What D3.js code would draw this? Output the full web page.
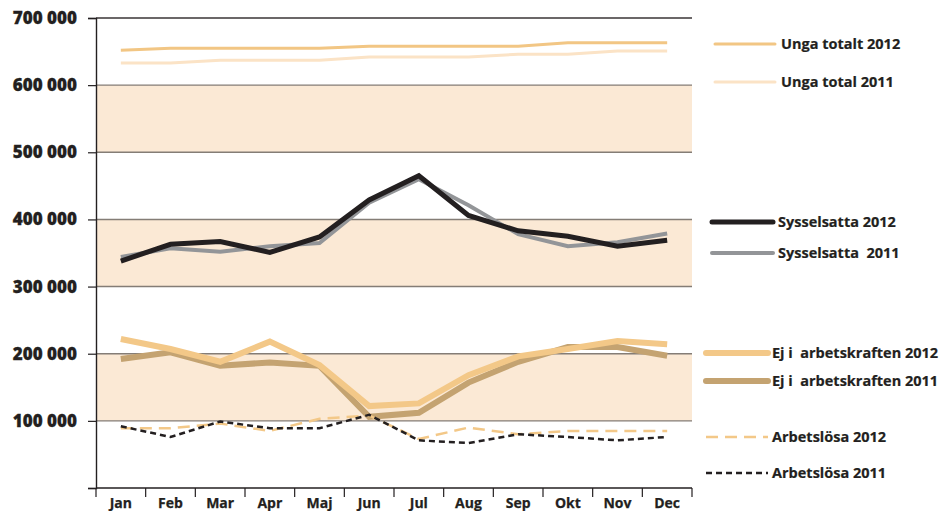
<!DOCTYPE html>
<html>
<head>
<meta charset="utf-8">
<script src="https://cdn.jsdelivr.net/npm/d3@7"></script>
<style>
  body { margin: 0; background: #fff; }
  svg { font-family: 'Open Sans', sans-serif; font-weight: 700; }
</style>
</head>
<body>
<div id="chart"></div>
<script>
const months = ['Jan', 'Feb', 'Mar', 'Apr', 'Maj', 'Jun', 'Jul', 'Aug', 'Sep', 'Okt', 'Nov', 'Dec'];
const yTicks = [0, 100000, 200000, 300000, 400000, 500000, 600000, 700000];
const bands = [[100000, 200000], [300000, 400000], [500000, 600000]];

const ungaTotalt2012 = [652000, 655000, 655000, 655000, 655000, 658000, 658000, 658000, 658000, 663000, 663000, 663000];
const ungaTotal2011 = [633000, 633000, 637000, 637000, 637000, 642000, 642000, 642000, 646000, 646000, 651000, 651000];
const sysselsatta2012 = [338000, 363000, 367000, 351000, 374000, 429000, 465000, 406000, 383000, 375000, 360000, 369000];
const sysselsatta2011 = [344000, 357000, 352000, 360000, 365000, 425000, 460000, 421000, 378000, 360000, 366000, 379000];
const ejArbets2012 = [222000, 207000, 188000, 218000, 183000, 122000, 126000, 168000, 196000, 207000, 219000, 214000];
const ejArbets2011 = [192000, 202000, 182000, 187000, 182000, 106000, 112000, 157000, 188000, 210000, 210000, 197000];
const arbetslosa2012 = [89000, 89000, 96000, 85000, 103000, 108000, 73000, 90000, 80000, 85000, 85000, 85000];
const arbetslosa2011 = [92000, 76000, 99000, 89000, 89000, 109000, 71000, 67000, 80000, 76000, 71000, 76000];

const series = [
  { name: 'Unga totalt 2012', values: ungaTotalt2012, color: '#f2c684', width: 3, dash: null, ly: 44 },
  { name: 'Unga total 2011', values: ungaTotal2011, color: '#fbe3c6', width: 3, dash: null, ly: 82 },
  { name: 'Ej i  arbetskraften 2011', values: ejArbets2011, color: '#c4a371', width: 6, dash: null, ly: 381 },
  { name: 'Ej i  arbetskraften 2012', values: ejArbets2012, color: '#f3c888', width: 6, dash: null, ly: 353 },
  { name: 'Arbetslösa 2012', values: arbetslosa2012, color: '#f3c888', width: 2.5, dash: '12,7', ly: 437 },
  { name: 'Arbetslösa 2011', values: arbetslosa2011, color: '#231f20', width: 2.5, dash: '6,4', ly: 473 },
  { name: 'Sysselsatta  2011', values: sysselsatta2011, color: '#939598', width: 4, dash: null, ly: 253 },
  { name: 'Sysselsatta 2012', values: sysselsatta2012, color: '#231f20', width: 5, dash: null, ly: 222 }
];

const W = 940, H = 511;
const plotLeft = 96, plotRight = 692, plotTop = 18, plotBottom = 488;

const svg = d3.select('#chart').append('svg').attr('width', W).attr('height', H);

const x = d3.scaleBand().domain(months).range([plotLeft, plotRight]);
const y = d3.scaleLinear().domain([0, 700000]).range([plotBottom, plotTop]);

// beige bands
svg.append('g')
  .selectAll('rect')
  .data(bands)
  .enter()
  .append('rect')
  .attr('x', plotLeft)
  .attr('width', plotRight - plotLeft)
  .attr('y', (d) => y(d[1]))
  .attr('height', (d) => y(d[0]) - y(d[1]))
  .style('fill', '#fbe9d5');

// horizontal grid lines
svg.append('g')
  .selectAll('line')
  .data(yTicks.filter((d) => d > 0))
  .enter()
  .append('line')
  .attr('x1', plotLeft)
  .attr('x2', plotRight)
  .attr('y1', (d) => y(d))
  .attr('y2', (d) => y(d))
  .style('stroke', (d) => (d === 700000 ? '#3a3536' : '#847d76'))
  .style('stroke-width', 1.4);

// y axis
const fmt = (d) => d3.format(',')(d).replace(/,/g, ' ');
const yAxis = svg.append('g')
  .attr('transform', `translate(${plotLeft},0)`)
  .call(d3.axisLeft(y).tickValues(yTicks).tickSize(8).tickPadding(11).tickFormat((d) => (d === 0 ? '' : fmt(d))));
yAxis.select('.domain').style('stroke', '#231f20').style('stroke-width', 1.4);
yAxis.selectAll('.tick line').style('stroke', '#231f20').style('stroke-width', 1.2);
yAxis.selectAll('.tick text')
  .style('font-family', "'Open Sans', sans-serif")
  .style('font-weight', 800)
  .style('font-size', '17px')
  .style('stroke', '#231f20')
  .style('stroke-width', 0.3)
  .style('fill', '#231f20');

// x axis with ticks at category edges
const xg = svg.append('g').attr('transform', `translate(0,${plotBottom})`);
xg.append('line')
  .attr('x1', plotLeft)
  .attr('x2', plotRight)
  .style('stroke', '#231f20')
  .style('stroke-width', 1.4);
xg.selectAll('.edge')
  .data(months.concat(['end']))
  .enter()
  .append('line')
  .attr('class', 'edge')
  .attr('x1', (d) => (d === 'end' ? plotRight : x(d)))
  .attr('x2', (d) => (d === 'end' ? plotRight : x(d)))
  .attr('y1', 0)
  .attr('y2', 9)
  .style('stroke', '#231f20')
  .style('stroke-width', 1.2);
xg.selectAll('.lbl')
  .data(months)
  .enter()
  .append('text')
  .attr('class', 'lbl')
  .attr('x', (d) => x(d) + x.bandwidth() / 2)
  .attr('y', 20)
  .attr('text-anchor', 'middle')
  .style('font-size', '14px')
  .style('stroke', '#231f20')
  .style('stroke-width', 0.25)
  .style('fill', '#231f20')
  .text((d) => d);

// lines
const line = d3.line()
  .x((d, i) => x(months[i]) + x.bandwidth() / 2)
  .y((d) => y(d));

svg.append('g')
  .selectAll('path')
  .data(series)
  .enter()
  .append('path')
  .attr('d', (d) => line(d.values))
  .style('fill', 'none')
  .style('stroke', (d) => d.color)
  .style('stroke-width', (d) => d.width)
  .style('stroke-dasharray', (d) => d.dash)
  .style('stroke-linejoin', 'miter');

// legend
const legend = svg.append('g');
const items = legend.selectAll('g')
  .data(series)
  .enter()
  .append('g')
  .attr('transform', (d) => `translate(0,${d.ly})`);
items.append('line')
  .attr('x1', (d) => (d.ly < 100 ? 715 : d.ly < 300 ? 712 : 706))
  .attr('x2', (d) => (d.ly < 100 ? 775 : d.ly < 300 ? 773 : 768))
  .style('stroke', (d) => d.color)
  .style('stroke-width', (d) => d.width)
  .style('stroke-dasharray', (d) => d.dash)
  .style('stroke-linecap', (d) => (d.dash ? 'butt' : 'round'));
items.append('text')
  .attr('x', (d) => (d.ly < 100 ? 781 : d.ly < 300 ? 778 : 772))
  .attr('y', 5)
  .style('font-size', '14.5px')
  .style('fill', '#231f20')
  .style('stroke', '#231f20')
  .style('stroke-width', 0.2)
  .style('white-space', 'pre')
  .text((d) => d.name);
</script>
</body>
</html>
